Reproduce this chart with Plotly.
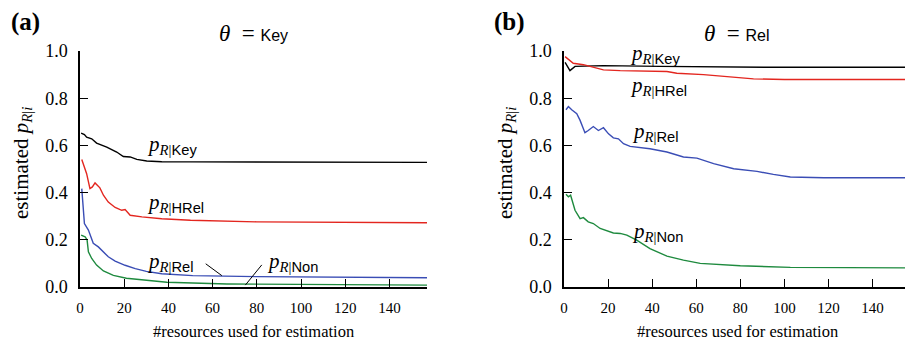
import plotly.graph_objects as go

# ---------------- data ----------------
# Panel (a): theta = Key
a_key_x = [0.5, 2, 3, 5.3, 7.5, 12.1, 16.6, 19.6, 22.7, 25.7, 30.2, 37, 50, 80, 157]
a_key_y = [0.652, 0.646, 0.635, 0.628, 0.610, 0.593, 0.572, 0.553, 0.551, 0.541, 0.534, 0.531, 0.530, 0.529, 0.528]

a_hrel_x = [0.8, 3, 4.5, 5.6, 6.8, 8, 9, 10.6, 12.8, 15.9, 18.9, 20.4, 22.7, 28, 37, 50, 80, 157]
a_hrel_y = [0.540, 0.480, 0.417, 0.424, 0.441, 0.431, 0.420, 0.389, 0.360, 0.337, 0.325, 0.328, 0.304, 0.297, 0.289, 0.283, 0.276, 0.272]

a_rel_x = [0.8, 2, 3.8, 6, 8.3, 10.6, 12.8, 15.9, 20.4, 25, 30, 37, 51, 80, 157]
a_rel_y = [0.417, 0.269, 0.241, 0.185, 0.170, 0.149, 0.128, 0.110, 0.092, 0.078, 0.066, 0.056, 0.048, 0.044, 0.039]

a_non_x = [0.5, 2.3, 3.2, 3.8, 5.3, 7.5, 10.6, 15.1, 21, 28.7, 39.3, 66.5, 100, 157]
a_non_y = [0.220, 0.213, 0.200, 0.149, 0.121, 0.093, 0.068, 0.049, 0.037, 0.030, 0.020, 0.013, 0.010, 0.008]

# Panel (b): theta = Rel
b_key_x = [0.5, 2.7, 5, 17.7, 43.6, 80, 93.6, 157]
b_key_y = [0.952, 0.917, 0.935, 0.938, 0.935, 0.933, 0.931, 0.931]

b_hrel_x = [0.5, 4.2, 8.8, 13.3, 17.9, 25.5, 46.7, 51.2, 63.3, 86, 100, 157]
b_hrel_y = [0.976, 0.948, 0.942, 0.931, 0.920, 0.917, 0.913, 0.906, 0.900, 0.882, 0.879, 0.879]

b_rel_x = [0.9, 2, 3.5, 5.8, 7.3, 9.5, 11, 13.3, 15.6, 17.9, 20.2, 22.4, 24.7, 27, 30, 39, 46.7,
           54.2, 60.3, 67.9, 77, 87.6, 95, 102.7, 117.9, 157]
b_rel_y = [0.751, 0.765, 0.751, 0.734, 0.706, 0.654, 0.663, 0.680, 0.663, 0.675, 0.649, 0.632, 0.628,
           0.607, 0.596, 0.586, 0.572, 0.551, 0.546, 0.523, 0.501, 0.490, 0.477, 0.466, 0.463, 0.463]

b_non_x = [0.9, 2, 3, 5, 7.3, 8.8, 11, 13.3, 16.4, 19.4, 22.4, 25.5, 28.5, 33, 39, 46.7, 54.2,
           61.8, 80, 102.7, 157]
b_non_y = [0.393, 0.382, 0.389, 0.325, 0.290, 0.294, 0.276, 0.269, 0.248, 0.238, 0.229, 0.227,
           0.220, 0.199, 0.163, 0.131, 0.114, 0.100, 0.090, 0.083, 0.081]

series_names = ["Key", "HRel", "Rel", "Non"]
panel_titles = ["Key", "Rel"]
panel_tags = ["(a)", "(b)"]
x_ticks = [0, 20, 40, 60, 80, 100, 120, 140]
y_ticks = [0.0, 0.2, 0.4, 0.6, 0.8, 1.0]
y_tick_labels = ["0.0", "0.2", "0.4", "0.6", "0.8", "1.0"]
x_title = "#resources used for estimation"

# label anchor positions (data coords) for each curve label
a_label_x = [29.5, 29.5, 29.5, 83.8]
a_label_y = [0.600, 0.355, 0.107, 0.107]
b_label_x = [29.0, 29.0, 30.0, 30.0]
b_label_y = [0.987, 0.853, 0.656, 0.234]

# ---------------- styling / layout ----------------
colors = {"Key": "#000000", "HRel": "#e3261f", "Rel": "#3a4db5", "Non": "#1e8a3e"}
SERIF = "Liberation Serif"
SANS = "Liberation Sans"

OFF = 8                      # page body margin
W, H = 913 - OFF, 346 - OFF  # figure size so the page is filled exactly


def fx(page_x):
    return (page_x - OFF) / W


def fy(page_y):
    return (H - (page_y - OFF)) / H


dom_a = [fx(80), fx(427)]
dom_b = [fx(564), fx(910)]
dom_y = [fy(287), fy(51)]

fig = go.Figure()

panels = [
    ("x", "y", [(a_key_x, a_key_y), (a_hrel_x, a_hrel_y), (a_rel_x, a_rel_y), (a_non_x, a_non_y)]),
    ("x2", "y2", [(b_key_x, b_key_y), (b_hrel_x, b_hrel_y), (b_rel_x, b_rel_y), (b_non_x, b_non_y)]),
]
for xa, ya, data in panels:
    for name, (xs, ys) in zip(series_names, data):
        fig.add_trace(go.Scatter(x=xs, y=ys, mode="lines", xaxis=xa, yaxis=ya,
                                 line=dict(color=colors[name], width=1.4),
                                 showlegend=False, hoverinfo="skip", cliponaxis=False))

axis_common = dict(
    range=[0, 157], showline=True, linecolor="black", linewidth=1.5,
    ticks="inside", ticklen=8, tickwidth=1.3, tickcolor="black", automargin=False,
    showgrid=False, zeroline=False, tickmode="array", tickvals=x_ticks,
    tickfont=dict(family=SERIF, size=15, color="black"), ticklabelstandoff=6,
)
yaxis_common = dict(
    range=[0, 1.0], showline=True, linecolor="black", linewidth=1.5,
    ticks="inside", ticklen=8, tickwidth=1.3, tickcolor="black", automargin=False,
    showgrid=False, zeroline=False, tickmode="array", tickvals=y_ticks,
    ticktext=y_tick_labels,
    tickfont=dict(family=SERIF, size=18, color="black"), ticklabelstandoff=7,
)

fig.update_layout(
    width=W, height=H, margin=dict(l=0, r=0, t=0, b=0, pad=0), autosize=False,
    paper_bgcolor="white", plot_bgcolor="white", showlegend=False,
    xaxis=dict(domain=dom_a, anchor="y", **axis_common),
    yaxis=dict(domain=dom_y, anchor="x", **yaxis_common),
    xaxis2=dict(domain=dom_b, anchor="y2", **axis_common),
    yaxis2=dict(domain=dom_y, anchor="x2", **yaxis_common),
)


def plabel(name):
    return ("<i>p</i><sub><i>R</i>|<span style='font-family:%s'>%s</span></sub>" % (SANS, name))


annos = []
for (xa, ya), lx, ly in [(("x", "y"), a_label_x, a_label_y), (("x2", "y2"), b_label_x, b_label_y)]:
    for name, x0, y0 in zip(series_names, lx, ly):
        annos.append(dict(x=x0, y=y0, xref=xa, yref=ya, text=plabel(name), showarrow=False,
                          xanchor="left", yanchor="middle",
                          font=dict(family=SERIF, size=21, color="black")))

# leader lines in panel (a)
annos.append(dict(x=64.2, y=0.048, ax=56.2, ay=0.103, xref="x", yref="y", axref="x", ayref="y",
                  text="", showarrow=True, arrowhead=0, arrowwidth=1, arrowcolor="black"))
annos.append(dict(x=74.8, y=0.008, ax=82.8, ay=0.100, xref="x", yref="y", axref="x", ayref="y",
                  text="", showarrow=True, arrowhead=0, arrowwidth=1, arrowcolor="black"))

# panel titles, x-axis titles
centers = [(dom_a[0] + dom_a[1]) / 2, (dom_b[0] + dom_b[1]) / 2]
for c, t in zip(centers, panel_titles):
    annos.append(dict(x=c, y=fy(33), xref="paper", yref="paper", showarrow=False,
                      xanchor="center", yanchor="middle",
                      text="<i>θ</i>\u2002= <span style='font-family:%s;font-size:16px'>%s</span>" % (SANS, t),
                      font=dict(family=SERIF, size=23, color="black")))
    annos.append(dict(x=c, y=fy(331), xref="paper", yref="paper", showarrow=False,
                      xanchor="center", yanchor="middle", text=x_title,
                      font=dict(family=SERIF, size=16.5, color="black")))

# panel tags
for px, t in zip([25, 509], panel_tags):
    annos.append(dict(x=fx(px), y=fy(22), xref="paper", yref="paper", showarrow=False,
                      xanchor="center", yanchor="middle", text="<b>%s</b>" % t,
                      font=dict(family=SERIF, size=25, color="black")))

# y-axis titles
for px in [22, 506]:
    annos.append(dict(x=fx(px), y=fy(163), xref="paper", yref="paper", showarrow=False,
                      xanchor="center", yanchor="middle", textangle=-90,
                      text="estimated <i>p</i><sub><i>R</i>|<i>i</i></sub>",
                      font=dict(family=SERIF, size=21, color="black")))

fig.update_layout(annotations=annos)
fig.write_html("out.html")
